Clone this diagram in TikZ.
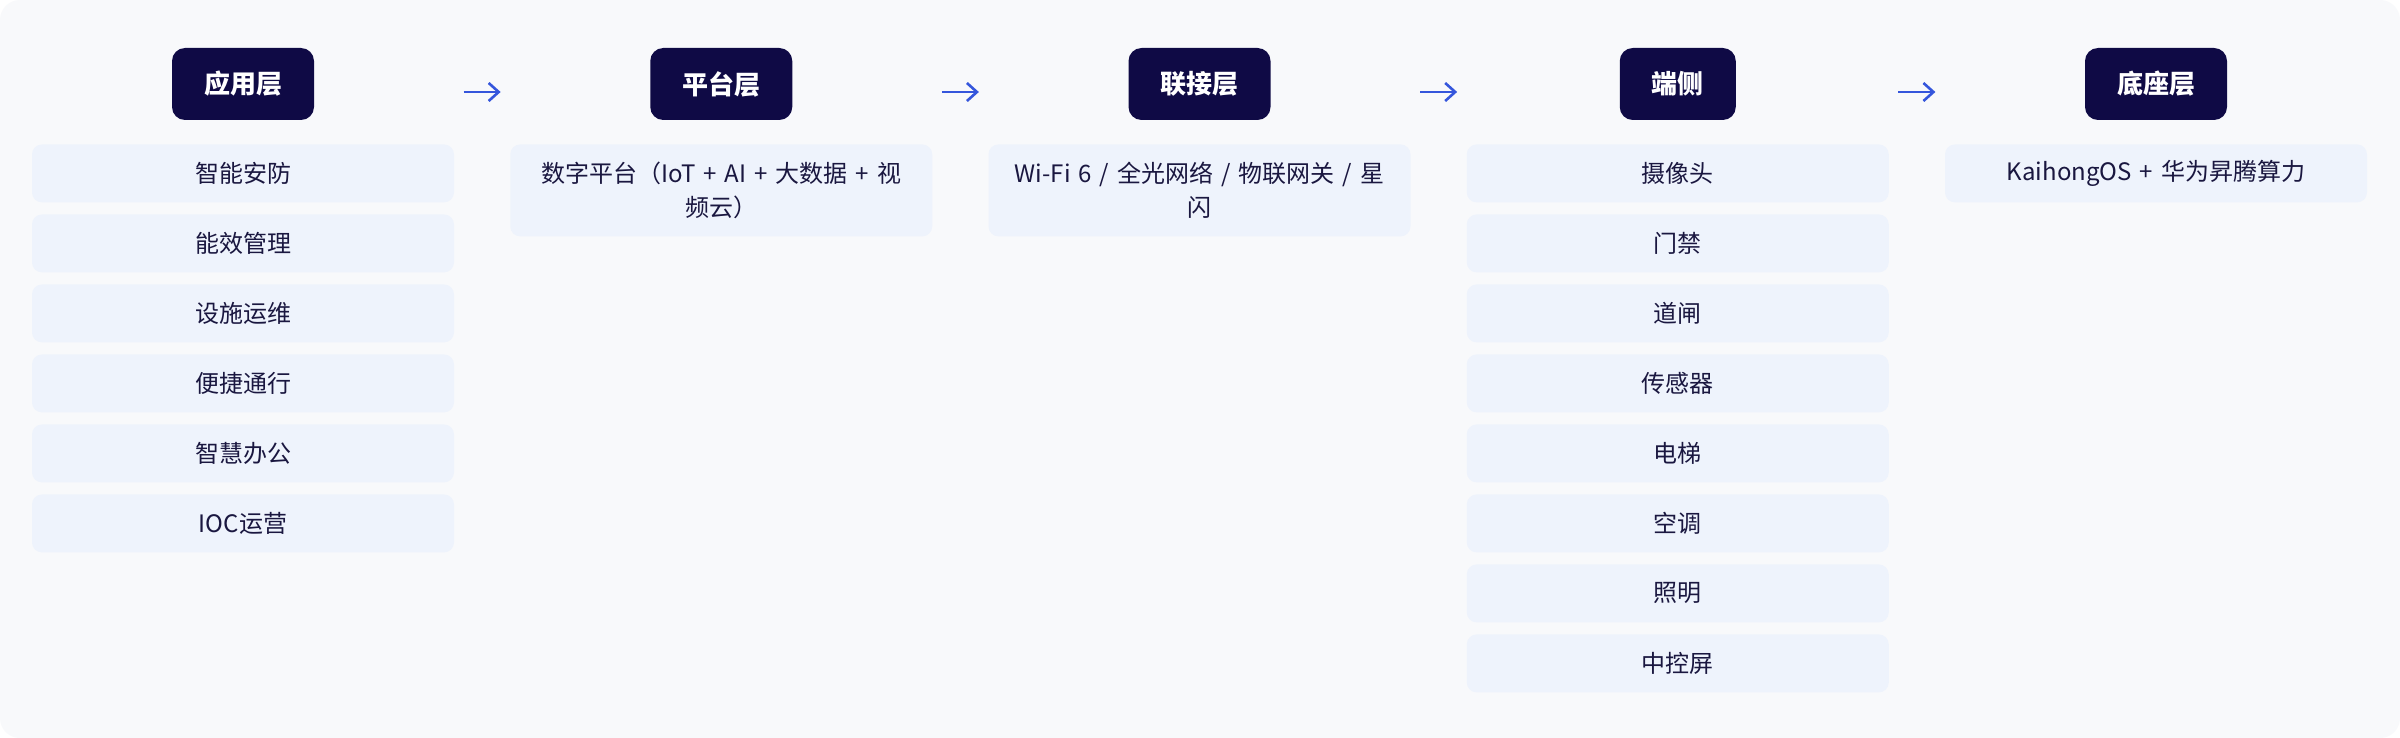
\documentclass[tikz,border=0pt]{standalone}
\usepackage{fontspec}
\setmainfont{Noto Sans CJK SC}
\usetikzlibrary{arrows.meta,calc}
\definecolor{bgc}{HTML}{F8F9FB}
\definecolor{hdc}{HTML}{0F0A45}
\definecolor{itc}{HTML}{EEF3FC}
\definecolor{txc}{HTML}{1A1740}
\definecolor{arc}{HTML}{3556DC}
\tikzset{
  hdr/.style={fill=hdc, text=white, rounded corners=6.5pt, minimum height=36pt,
    inner xsep=16pt, inner ysep=0pt, font=\fontsize{13}{15}\selectfont\bfseries},
  itm/.style={fill=itc, text=txc, rounded corners=5pt, minimum height=29pt,
    text width=187pt, inner xsep=12pt, inner ysep=0pt, align=center, anchor=north,
    font=\fontsize{12}{17}\selectfont},
  arr/.style={draw=arc, line width=1.3pt, -{Straight Barb[length=5pt,width=9pt]}}
}
\begin{document}
\begin{tikzpicture}[x=0.5pt,y=-0.5pt]
\useasboundingbox (0,0) rectangle (2400,738);
\fill[white] (0,0) rectangle (2400,738);
\fill[bgc, rounded corners=10pt] (0,0) rectangle (2400,738);

% headers
\node[hdr] (h1) at (243,84) {应用层};
\node[hdr] (h2) at (721.25,84) {平台层};
\node[hdr] (h3) at (1199.5,84) {联接层};
\node[hdr] (h4) at (1677.75,84) {端侧};
\node[hdr] (h5) at (2156,84) {底座层};

% arrows between headers
\coordinate (m1) at ($(h1)!0.5!(h2)$);
\coordinate (m2) at ($(h2)!0.5!(h3)$);
\coordinate (m3) at ($(h3)!0.5!(h4)$);
\coordinate (m4) at ($(h4)!0.5!(h5)$);
\foreach \k in {1,2,3,4}{
  \coordinate (s\k) at ([xshift=-9.25pt,yshift=-4pt]m\k);
  \coordinate (e\k) at ([xshift=9.25pt,yshift=-4pt]m\k);
  \draw[arr] (s\k) -- (e\k);
}

% column 1
\foreach \t [count=\i from 0] in {智能安防,能效管理,设施运维,便捷通行,智慧办公,IOC运营}
  \node[itm] (a\i) at (243,{144+70*\i}) {\t};

% column 2
\node[itm, minimum height=46pt] (b0) at (721.25,144) {数字平台（IoT + AI + 大数据 + 视\\频云）};

% column 3
\node[itm, minimum height=46pt] (c0) at (1199.5,144) {Wi-Fi 6 / 全光网络 / 物联网关 / 星\\闪};

% column 4
\foreach \t [count=\i from 0] in {摄像头,门禁,道闸,传感器,电梯,空调,照明,中控屏}
  \node[itm] (d\i) at (1677.75,{144+70*\i}) {\t};

% column 5
\node[itm] (e0) at (2156,144) {KaihongOS + 华为昇腾算力};
\end{tikzpicture}
\end{document}
